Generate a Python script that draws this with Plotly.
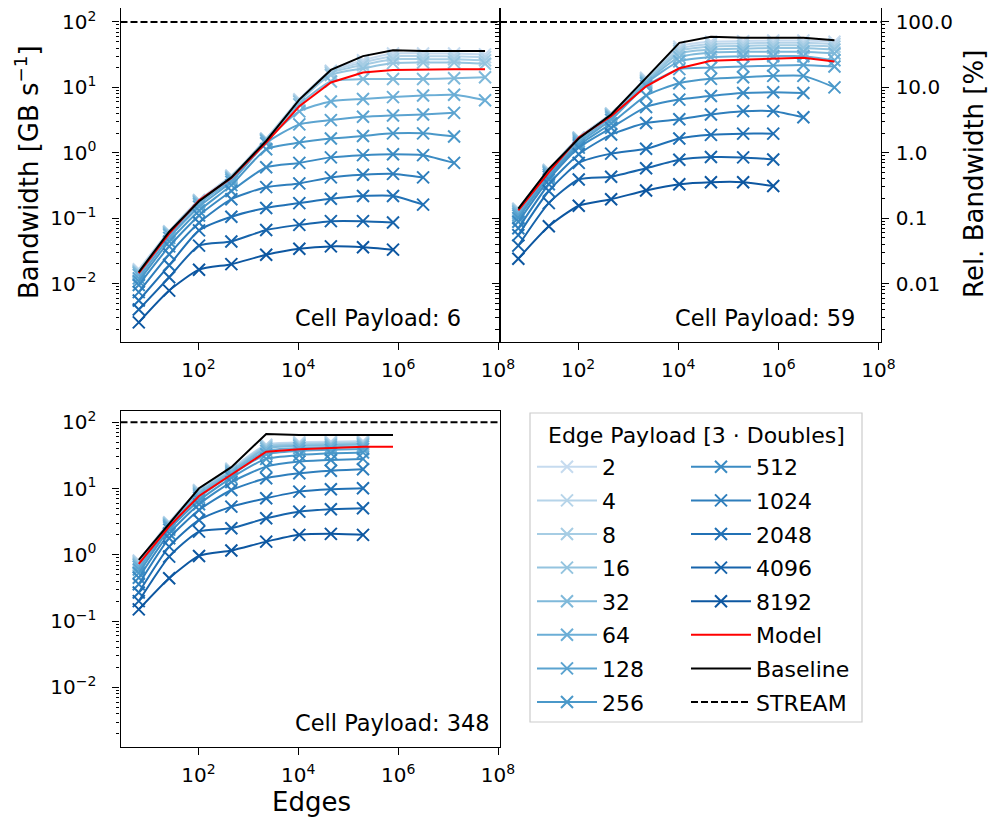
import plotly.graph_objects as go

# ---------------- data ----------------
edges = [6.4, 26, 103, 457, 2280, 10500, 45000, 198000, 790000, 3.16e6, 1.32e7, 5.5e7]
payloads = ["2", "4", "8", "16", "32", "64", "128", "256", "512", "1024", "2048", "4096", "8192"]
stream_bw = 100.0

# Cell payload 6 (bandwidth GB/s per edge payload)
cell6_bw = [
    [0.0165, 0.063, 0.19, 0.45, 1.65, 6.6, 18.0, 26, 33, 33, 33, 32],
    [0.0160, 0.062, 0.188, 0.44, 1.63, 6.4, 17.5, 24, 30, 30, 30, 29],
    [0.0155, 0.061, 0.185, 0.43, 1.62, 6.2, 16.5, 22, 27, 27, 27, 26],
    [0.0150, 0.060, 0.18, 0.42, 1.60, 6.0, 15.5, 19.5, 23.5, 24, 24, 23],
    [0.0145, 0.058, 0.175, 0.41, 1.57, 5.5, 12.3, 13.4, 13.4, 13.4, 13.8, 14.3],
    [0.0135, 0.055, 0.165, 0.39, 1.52, 4.3, 6.1, 6.65, 7.1, 7.5, 7.7, 6.35],
    [0.0120, 0.050, 0.15, 0.36, 1.40, 2.72, 3.16, 3.55, 3.72, 3.85, 4.08],
    [0.0108, 0.044, 0.13, 0.32, 1.13, 1.43, 1.65, 1.81, 1.98, 1.98, 1.77],
    [0.0095, 0.037, 0.11, 0.26, 0.60, 0.70, 0.85, 0.92, 0.95, 0.92, 0.70],
    [0.0074, 0.028, 0.085, 0.195, 0.298, 0.34, 0.42, 0.46, 0.475, 0.42],
    [0.0055, 0.019, 0.065, 0.105, 0.143, 0.17, 0.198, 0.218, 0.218, 0.161],
    [0.0040, 0.0125, 0.038, 0.044, 0.066, 0.079, 0.090, 0.090, 0.086],
    [0.00255, 0.0078, 0.0163, 0.0198, 0.0275, 0.034, 0.037, 0.036, 0.033],
]
cell6_baseline = [0.015, 0.062, 0.181, 0.42, 1.52, 6.5, 18.5, 30.1, 37.1, 35.9, 35.9, 35.9]
cell6_model = [0.0144, 0.058, 0.187, 0.41, 1.43, 5.15, 11.9, 16.9, 18.5, 18.9, 18.9, 18.9]

# Cell payload 59
cell59_bw = [
    [0.14, 0.55, 1.72, 4.0, 14.0, 42, 50, 51, 52, 52, 50],
    [0.138, 0.54, 1.70, 3.95, 13.5, 39, 46, 47, 48, 48, 46],
    [0.135, 0.53, 1.68, 3.9, 13.0, 36, 42, 43, 44, 44, 42],
    [0.13, 0.52, 1.65, 3.8, 12.5, 33, 38, 39, 40, 40, 38],
    [0.125, 0.51, 1.6, 3.7, 12.0, 29, 34, 35, 35, 35, 33],
    [0.118, 0.49, 1.5, 3.5, 11.5, 25, 29, 30, 30, 30, 26],
    [0.11, 0.46, 1.4, 3.2, 10.5, 19, 20, 20.8, 21.5, 22, 20.8],
    [0.10, 0.43, 1.3, 2.8, 7.5, 11.6, 13.5, 14.3, 15, 15, 10],
    [0.088, 0.39, 1.2, 2.4, 5.0, 6.5, 7.4, 8.2, 8.4, 8.2],
    [0.07, 0.33, 0.95, 1.9, 2.85, 3.25, 3.85, 4.33, 4.33, 3.5],
    [0.055, 0.26, 0.7, 0.97, 1.15, 1.65, 1.88, 1.96, 1.96],
    [0.038, 0.17, 0.39, 0.43, 0.58, 0.78, 0.86, 0.85, 0.79],
    [0.024, 0.075, 0.155, 0.195, 0.265, 0.33, 0.355, 0.355, 0.31],
]
cell59_baseline = [0.14, 0.565, 1.65, 3.85, 14, 48, 59.3, 57.3, 57.3, 57.3, 52.6]
cell59_model = [0.132, 0.50, 1.71, 3.64, 10.4, 19.6, 25.6, 26.8, 27.8, 28.5, 24.8]

# Cell payload 348
cell348_bw = [
    [0.82, 3.1, 9.5, 20, 46, 50, 51, 52],
    [0.80, 3.05, 9.3, 19.5, 45, 48.5, 49.5, 50.5],
    [0.77, 3.0, 9.1, 19, 43.5, 47, 48, 49],
    [0.74, 2.95, 8.8, 18.5, 42, 45.5, 46.5, 47.5],
    [0.70, 2.85, 8.4, 18, 40, 44, 45, 46],
    [0.66, 2.75, 7.9, 17, 37, 41, 42, 43],
    [0.60, 2.6, 7.3, 16, 33, 37, 38.5, 39.5],
    [0.53, 2.4, 6.6, 14.5, 28, 32, 34, 35],
    [0.45, 2.1, 5.8, 12.5, 21.4, 25.5, 27, 28],
    [0.36, 1.78, 4.75, 9.5, 14.3, 17, 18.6, 19.5],
    [0.27, 1.33, 3.36, 5.33, 7.14, 8.98, 9.76, 10.1],
    [0.20, 0.94, 2.24, 2.52, 3.56, 4.48, 4.87, 5.05],
    [0.15, 0.444, 0.962, 1.16, 1.58, 2.0, 2.07, 2.0],
]
cell348_baseline = [0.84, 3.0, 10.1, 21, 66.6, 64.5, 64.3, 64.3, 64.3]
cell348_model = [0.73, 2.67, 7.73, 16, 36, 39.1, 41.4, 42.8, 42.8]

panels = [
    ("Cell Payload: 6", cell6_bw, cell6_baseline, cell6_model, "x", "y"),
    ("Cell Payload: 59", cell59_bw, cell59_baseline, cell59_model, "x2", "y2"),
    ("Cell Payload: 348", cell348_bw, cell348_baseline, cell348_model, "x3", "y3"),
]

y_ticks = [1e-2, 1e-1, 1, 10, 100]
y_ticktext = ["10<sup>\u22122</sup>", "10<sup>\u22121</sup>", "10<sup>0</sup>", "10<sup>1</sup>", "10<sup>2</sup>"]
rel_ticktext = ["0.01", "0.1", "1.0", "10.0", "100.0"]
x_ticks = [1e2, 1e4, 1e6, 1e8]
x_ticktext = ["10<sup>2</sup>", "10<sup>4</sup>", "10<sup>6</sup>", "10<sup>8</sup>"]

# ---------------- style ----------------
colors = ["#c6dbef", "#b6d4e9", "#a6cde4", "#94c4df", "#7fb9da", "#6baed6", "#5ba3d0",
          "#4a98c9", "#3b8bc3", "#2e7ebc", "#2171b5", "#1764ab", "#0d57a1"]
FONT = "DejaVu Sans"
OFF = 8                      # page body margin of the browser
W, H = 997 - 2 * OFF, 828 - 2 * OFF


def px_x(p):
    return min(1.0, max(0.0, (p - OFF) / W))


def px_y(p):
    return min(1.0, max(0.0, 1 - (p - OFF) / H))


fig = go.Figure()

for pi, (label, bw, base, model, xa, ya) in enumerate(panels):
    for si, vals in enumerate(bw):
        fig.add_trace(go.Scatter(
            x=edges[:len(vals)], y=vals, mode="lines+markers",
            name=payloads[si], legendgroup=payloads[si],
            legend="legend" if si < 8 else "legend2",
            showlegend=(pi == 0),
            line=dict(color=colors[si], width=2, shape="spline", smoothing=0.6),
            marker=dict(symbol="x-thin", size=12, line=dict(width=2, color=colors[si]), color=colors[si]),
            xaxis=xa, yaxis=ya, hoverinfo="skip",
        ))
    fig.add_trace(go.Scatter(
        x=edges[:len(model)], y=model, mode="lines", name="Model", legendgroup="Model",
        legend="legend2", showlegend=(pi == 0),
        line=dict(color="red", width=2), xaxis=xa, yaxis=ya, hoverinfo="skip"))
    fig.add_trace(go.Scatter(
        x=edges[:len(base)], y=base, mode="lines", name="Baseline", legendgroup="Baseline",
        legend="legend2", showlegend=(pi == 0),
        line=dict(color="black", width=2), xaxis=xa, yaxis=ya, hoverinfo="skip"))

# empty trace to activate the relative axis
fig.add_trace(go.Scatter(x=[None], y=[None], xaxis="x2", yaxis="y4", showlegend=False, hoverinfo="skip"))

shapes = []
for pi, (xa, ya) in enumerate([("x", "y"), ("x2", "y2"), ("x3", "y3")]):
    shapes.append(dict(type="line", xref=f"{xa} domain", yref=ya, x0=0, x1=1, y0=stream_bw, y1=stream_bw,
                       line=dict(color="black", width=1.8, dash="7px,3px"),
                       showlegend=(pi == 0), name="STREAM", legend="legend2", legendgroup="STREAM"))
# legend frame
shapes.insert(0, dict(type="rect", xref="paper", yref="paper", x0=px_x(530), x1=px_x(862),
                      y0=px_y(722), y1=px_y(413), line=dict(color="#cccccc", width=1.2),
                      fillcolor="white", layer="below"))

xr = [0.44, 8.04]
yr_top = [-2.894, 2.214]
yr_bot = [-2.90, 2.17]
axis_common = dict(type="log", showline=True, linecolor="black", linewidth=1.3, mirror=True,
                   ticks="outside", ticklen=7, tickwidth=1.3, tickcolor="black",
                   showgrid=False, zeroline=False, automargin=False, ticklabeloverflow="allow",
                   tickfont=dict(family=FONT, size=20, color="black"))
xcommon = dict(axis_common, range=xr, tickmode="array", tickvals=x_ticks, ticktext=x_ticktext,
               ticklabelstandoff=3)
ycommon = dict(axis_common, tickmode="array", tickvals=y_ticks, ticktext=y_ticktext,
               ticklabelstandoff=12,
               minor=dict(ticks="outside", ticklen=3.5, tickwidth=1, tickcolor="black", dtick="D1", showgrid=False))

dom_x1 = [px_x(120.5), px_x(500)]
dom_x2 = [px_x(500), px_x(880.5)]
dom_y_top = [px_y(342), px_y(8)]
dom_y_bot = [px_y(747), px_y(411)]

leg_common = dict(xanchor="left", yanchor="top", bgcolor="rgba(0,0,0,0)", borderwidth=0,
                  font=dict(family=FONT, size=22, color="black"), itemwidth=60,
                  traceorder="grouped", tracegroupgap=2)

fig.update_layout(
    width=W, height=H, margin=dict(l=0, r=0, t=0, b=0),
    paper_bgcolor="white", plot_bgcolor="white",
    font=dict(family=FONT, size=20, color="black"),
    xaxis=dict(xcommon, domain=dom_x1, anchor="y"),
    yaxis=dict(ycommon, range=yr_top, domain=dom_y_top, anchor="x"),
    xaxis2=dict(xcommon, domain=dom_x2, anchor="y2"),
    yaxis2=dict(ycommon, range=yr_top, domain=dom_y_top, anchor="x2", showticklabels=False),
    yaxis4=dict(ycommon, range=yr_top, overlaying="y2", side="right", anchor="x2",
                ticktext=rel_ticktext, mirror=False, ticklabelstandoff=3),
    xaxis3=dict(xcommon, domain=dom_x1, anchor="y3"),
    yaxis3=dict(ycommon, range=yr_bot, domain=dom_y_bot, anchor="x3"),
    shapes=shapes,
    legend=dict(leg_common, x=px_x(532), y=px_y(446)),
    legend2=dict(leg_common, x=px_x(686), y=px_y(446)),
)

annotations = []
for label, _, _, _, xa, ya in panels:
    annotations.append(dict(text=label, xref=f"{xa} domain", yref=f"{ya} domain", x=0.455, y=0.072,
                            xanchor="left", yanchor="middle", showarrow=False,
                            font=dict(family=FONT, size=22.5, color="black")))
annotations += [
    dict(text="Bandwidth [GB s<sup>\u22121</sup>]", xref="paper", yref="paper", x=px_x(27), y=px_y(172),
         textangle=-90, showarrow=False, xanchor="center", yanchor="middle",
         font=dict(family=FONT, size=26, color="black")),
    dict(text="Rel. Bandwidth [%]", xref="paper", yref="paper", x=px_x(974), y=px_y(174),
         textangle=-90, showarrow=False, xanchor="center", yanchor="middle",
         font=dict(family=FONT, size=26, color="black")),
    dict(text="Edges", xref="paper", yref="paper", x=px_x(311), y=px_y(802),
         showarrow=False, xanchor="center", yanchor="middle",
         font=dict(family=FONT, size=26, color="black")),
    dict(text="Edge Payload [3 \u00b7 Doubles]", xref="paper", yref="paper", x=px_x(696), y=px_y(435),
         showarrow=False, xanchor="center", yanchor="middle",
         font=dict(family=FONT, size=22, color="black")),
]
fig.update_layout(annotations=annotations)

fig.write_html("out.html")
